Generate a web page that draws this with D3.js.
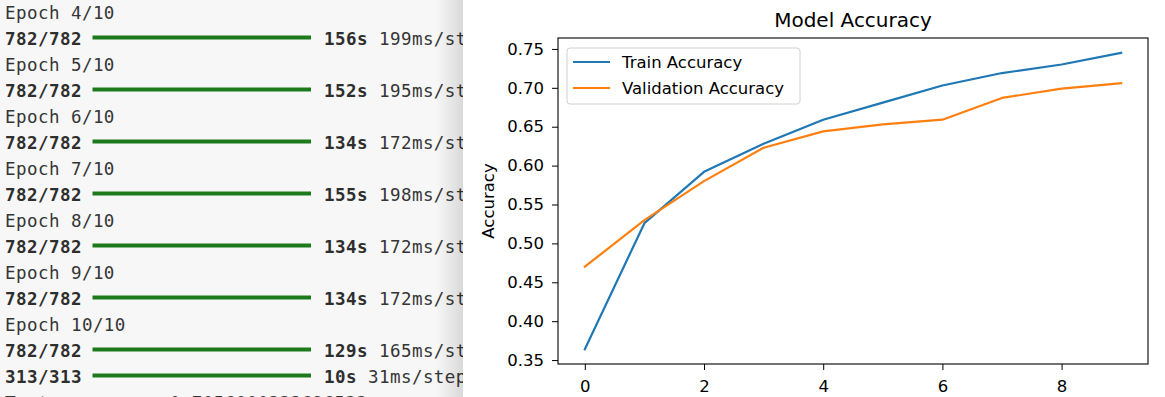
<!DOCTYPE html>
<html>
<head>
<meta charset="utf-8">
<script src="https://cdn.jsdelivr.net/npm/d3@7"></script>
<style>
  html, body { margin: 0; padding: 0; background: #fff; }
  svg { display: block; }
  .log text { font-family: "DejaVu Sans Mono", monospace; font-size: 17.5px; letter-spacing: 0.45px; fill: #353535; }
  .log .b { font-weight: bold; fill: #2e2e2e; }
  .chart text { font-family: "DejaVu Sans", sans-serif; fill: #000; }
</style>
</head>
<body>
<div id="page"></div>
<script>
// training log (left panel)
var epochLabels = ["Epoch 4/10", "Epoch 5/10", "Epoch 6/10", "Epoch 7/10", "Epoch 8/10", "Epoch 9/10", "Epoch 10/10", null];
var stepCounts = ["782/782", "782/782", "782/782", "782/782", "782/782", "782/782", "782/782", "313/313"];
var progress = [1, 1, 1, 1, 1, 1, 1, 1];
var times = ["156s", "152s", "134s", "155s", "134s", "134s", "129s", "10s"];
var perStep = ["199ms/step", "195ms/step", "172ms/step", "198ms/step", "172ms/step", "172ms/step", "165ms/step", "31ms/step"];
var testLine = "Test accuracy: 0.7056000232696533";

// chart data
var epochs = [0, 1, 2, 3, 4, 5, 6, 7, 8, 9];
var trainAcc = [0.364, 0.526, 0.592, 0.628, 0.659, 0.681, 0.703, 0.719, 0.730, 0.745];
var valAcc = [0.470, 0.530, 0.580, 0.623, 0.644, 0.653, 0.659, 0.687, 0.699, 0.706];
var xTicks = [0, 2, 4, 6, 8];
var yTicks = [0.35, 0.40, 0.45, 0.50, 0.55, 0.60, 0.65, 0.70, 0.75];
var seriesNames = ["Train Accuracy", "Validation Accuracy"];
var seriesColors = ["#1f77b4", "#ff7f0e"];

var svgWidth = 1165;
var svgHeight = 397;
var splitX = 463;

var svg = d3.select("#page")
  .append("svg")
  .attr("width", svgWidth)
  .attr("height", svgHeight);

var defs = svg.append("defs");
defs.append("clipPath").attr("id", "logClip")
  .append("rect").attr("x", 0).attr("y", 0).attr("width", splitX).attr("height", svgHeight);
var shade = defs.append("linearGradient").attr("id", "shade")
  .attr("x1", "0").attr("x2", "1").attr("y1", "0").attr("y2", "0");
shade.append("stop").attr("offset", "0").attr("stop-color", "#000").attr("stop-opacity", 0);
shade.append("stop").attr("offset", "1").attr("stop-color", "#000").attr("stop-opacity", 0.12);

// ---- left panel: console output ----
var log = svg.append("g").attr("class", "log").attr("clip-path", "url(#logClip)");
log.append("rect").attr("width", splitX).attr("height", svgHeight).attr("fill", "#f7f7f7");

var charW = 11;
var lineH = 26;
var firstBase = 19;
var textX = 5;
// the console is cut by the chart panel, only these columns show
var visibleCols = Math.ceil((splitX - textX) / charW);

// rows: epoch header then progress line, last progress line has no header
var rows = [];
epochLabels.forEach(function(lbl, i) {
  if (lbl) rows.push({ type: "epoch", text: lbl });
  rows.push({ type: "bar", i: i });
});
rows.push({ type: "plain", text: testLine });

var barX = d3.scaleLinear().domain([0, 1]).range([textX + 8 * charW - 0.5, textX + 28 * charW - 2]);

rows.forEach(function(r, k) {
  var base = firstBase + k * lineH;
  if (r.type === "epoch" || r.type === "plain") {
    log.append("text").attr("x", textX).attr("y", base).text(r.text);
  } else {
    log.append("text").attr("class", "b").attr("x", textX).attr("y", base).text(stepCounts[r.i]);
    log.append("line")
      .attr("x1", barX(0)).attr("x2", barX(progress[r.i]))
      .attr("y1", base - 7.5).attr("y2", base - 7.5)
      .attr("stroke", "#1c7a1c").attr("stroke-width", 4);
    var tail = (times[r.i] + " " + perStep[r.i]).slice(0, visibleCols - 29);
    var t = log.append("text").attr("x", textX + 29 * charW).attr("y", base);
    t.append("tspan").attr("class", "b").text(times[r.i]);
    t.append("tspan").text(tail.slice(times[r.i].length));
  }
});
log.append("rect").attr("x", 436).attr("width", splitX - 436).attr("height", svgHeight).attr("fill", "url(#shade)");

// ---- right panel: matplotlib style chart ----
svg.append("rect").attr("x", splitX).attr("width", svgWidth - splitX).attr("height", svgHeight).attr("fill", "#fff");

var margin = { top: 38, right: 17, bottom: 33, left: 558 };
var width = svgWidth - margin.left - margin.right;
var height = svgHeight - margin.top - margin.bottom;

var chart = svg.append("g").attr("class", "chart")
  .attr("transform", `translate(${margin.left}, ${margin.top})`);

var allVals = trainAcc.concat(valAcc);
var yMin = d3.min(allVals), yMax = d3.max(allVals);
var yPad = (yMax - yMin) * 0.05;
var xPad = (d3.max(epochs) - d3.min(epochs)) * 0.05;

var x = d3.scaleLinear()
  .domain([d3.min(epochs) - xPad, d3.max(epochs) + xPad])
  .range([0, width]);
var y = d3.scaleLinear()
  .domain([yMin - yPad, yMax + yPad])
  .range([height, 0]);

var bottomAxis = d3.axisBottom(x).tickValues(xTicks).tickFormat(d3.format("d")).tickSize(6).tickPadding(10);
var leftAxis = d3.axisLeft(y).tickValues(yTicks).tickFormat(d3.format(".2f")).tickSize(6).tickPadding(8);

var gx = chart.append("g").attr("transform", `translate(0, ${height})`).call(bottomAxis);
var gy = chart.append("g").call(leftAxis);
[gx, gy].forEach(function(g) {
  g.select(".domain").remove();
  g.selectAll(".tick line").attr("stroke", "#000").attr("stroke-width", 1);
  g.selectAll(".tick text").style("font-family", "DejaVu Sans").style("font-size", "16.5px").attr("fill", "#000");
});

var line = d3.line()
  .x(function(d, i) { return x(epochs[i]); })
  .y(function(d) { return y(d); });

[trainAcc, valAcc].forEach(function(series, s) {
  chart.append("path")
    .datum(series)
    .attr("fill", "none")
    .attr("stroke", seriesColors[s])
    .attr("stroke-width", 2.2)
    .attr("stroke-linejoin", "round")
    .attr("stroke-linecap", "square")
    .attr("d", line);
});

// frame
chart.append("rect")
  .attr("width", width).attr("height", height)
  .attr("fill", "none").attr("stroke", "#000").attr("stroke-width", 1.1);

// title and y label
chart.append("text")
  .attr("x", width / 2).attr("y", -11)
  .attr("text-anchor", "middle")
  .style("font-size", "20px")
  .text("Model Accuracy");

chart.append("text")
  .attr("transform", "rotate(-90)")
  .attr("x", -height / 2).attr("y", -64)
  .attr("text-anchor", "middle")
  .style("font-size", "16.5px")
  .text("Accuracy");

// legend
var legend = chart.append("g").attr("transform", "translate(9, 10)");
legend.append("rect")
  .attr("width", 233).attr("height", 56).attr("rx", 3)
  .attr("fill", "#fff").attr("fill-opacity", 0.8)
  .attr("stroke", "#d0d0d0").attr("stroke-width", 1);
seriesNames.forEach(function(name, s) {
  var ly = 14 + s * 26;
  legend.append("line")
    .attr("x1", 6).attr("x2", 43).attr("y1", ly).attr("y2", ly)
    .attr("stroke", seriesColors[s]).attr("stroke-width", 2.2);
  legend.append("text")
    .attr("x", 55).attr("y", ly + 6)
    .style("font-size", "16.5px")
    .text(name);
});
</script>
</body>
</html>
